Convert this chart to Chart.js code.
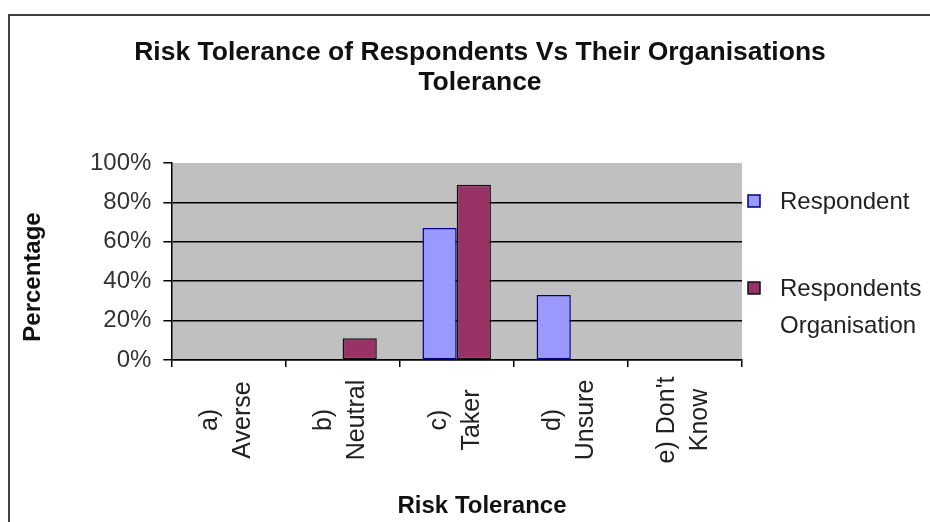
<!DOCTYPE html>
<html>
<head>
<meta charset="utf-8">
<script src="https://cdn.jsdelivr.net/npm/chart.js@4.4.0/dist/chart.umd.min.js"></script>
<style>
  html, body { margin: 0; padding: 0; background: #fff; }
  #wrap { position: relative; width: 930px; height: 522px; overflow: hidden; }
  #frame { position: absolute; left: 8px; top: 14px; width: 940px; height: 540px;
           border-left: 2px solid #404040; border-top: 2px solid #404040; }
  canvas { position: absolute; left: 0; top: 0; }
</style>
</head>
<body>
<div id="wrap">
  <div id="frame"></div>
  <canvas id="riskChart" width="930" height="522"></canvas>
</div>
<script>
const titleLines = ["Risk Tolerance of Respondents Vs Their Organisations", "Tolerance"];
const categories = [["a)", "Averse"], ["b)", "Neutral"], ["c)", "Taker"], ["d)", "Unsure"], ["e) Don't", "Know"]];
const respondent = [0, 0, 67, 33, 0];
const organisation = [0, 11, 89, 0, 0];
const seriesNames = ["Respondent", ["Respondents", "Organisation"]];
const yTicks = [0, 20, 40, 60, 80, 100];
const xTitle = "Risk Tolerance";
const yTitle = "Percentage";

const FONT = "'Liberation Sans', Arial, sans-serif";

// grey plot area like the old Excel chart
const plotBg = {
  id: 'plotBg',
  beforeDraw(chart) {
    const { ctx, chartArea: a } = chart;
    ctx.save();
    ctx.fillStyle = '#c0c0c0';
    ctx.fillRect(a.left, a.top, a.right - a.left, a.bottom - a.top);
    ctx.restore();
  }
};

// titles and category labels placed the way Excel did it
const texts = {
  id: 'texts',
  afterDraw(chart) {
    const ctx = chart.ctx;
    const xs = chart.scales.x;
    ctx.save();
    ctx.textAlign = 'center';
    ctx.textBaseline = 'middle';

    ctx.fillStyle = '#111';
    ctx.font = "bold 26.5px " + FONT;
    titleLines.forEach((t, i) => ctx.fillText(t, 480, 53 + i * 30));

    ctx.font = "bold 24px " + FONT;
    ctx.fillText(xTitle, 482, 506);
    ctx.save();
    ctx.translate(33, 277);
    ctx.rotate(-Math.PI / 2);
    ctx.fillText(yTitle, 0, 0);
    ctx.restore();

    // vertical two-line labels, centred on each category
    ctx.fillStyle = '#222';
    ctx.font = "25px " + FONT;
    categories.forEach((lines, i) => {
      const cx = xs.getPixelForTick(i);
      lines.forEach((l, j) => {
        ctx.save();
        ctx.translate(cx - 18 + j * 33, 420);
        ctx.rotate(-Math.PI / 2);
        ctx.fillText(l, 0, 0);
        ctx.restore();
      });
    });
    ctx.restore();
  }
};

// legend on the right, spaced like the reference
const sideLegend = {
  id: 'sideLegend',
  afterDraw(chart) {
    const ctx = chart.ctx;
    const rows = [201, 288];
    ctx.save();
    ctx.font = "24px " + FONT;
    ctx.textBaseline = 'middle';
    chart.data.datasets.forEach((ds, i) => {
      const y = rows[i];
      ctx.fillStyle = ds.backgroundColor;
      ctx.fillRect(748, y - 6, 12, 12);
      ctx.lineWidth = 1.5;
      ctx.strokeStyle = ds.borderColor;
      ctx.strokeRect(748, y - 6, 12, 12);
      ctx.fillStyle = '#222';
      const lines = Array.isArray(seriesNames[i]) ? seriesNames[i] : [seriesNames[i]];
      lines.forEach((l, j) => ctx.fillText(l, 780, y + 1 + j * 37));
    });
    ctx.restore();
  }
};

new Chart(document.getElementById('riskChart'), {
  type: 'bar',
  data: {
    labels: categories,
    datasets: [
      { label: 'Respondent', data: respondent, backgroundColor: '#9999ff', borderColor: '#000080', borderWidth: 1.5, borderSkipped: false },
      { label: 'Respondents Organisation', data: organisation, backgroundColor: '#993366', borderColor: '#111', borderWidth: 1.5, borderSkipped: false }
    ]
  },
  options: {
    responsive: false,
    animation: false,
    layout: { padding: { left: 78, right: 188, top: 163, bottom: 155 } },
    datasets: { bar: { categoryPercentage: 0.6, barPercentage: 1.0 } },
    plugins: { legend: { display: false }, title: { display: false }, tooltip: { enabled: false } },
    scales: {
      x: {
        grid: { drawOnChartArea: false, drawTicks: true, tickLength: 7, color: '#000', lineWidth: 1.5 },
        border: { color: '#000', width: 1.5 },
        ticks: { display: false }
      },
      y: {
        min: 0, max: 100,
        afterBuildTicks(axis) { axis.ticks = yTicks.map(v => ({ value: v })); },
        grid: {
          color: c => c.tick && c.tick.value === 100 ? 'rgba(0,0,0,0)' : '#000',
          tickColor: '#000', lineWidth: 1.5, tickLength: 8
        },
        border: { color: '#000', width: 1.5 },
        ticks: { padding: 12, color: '#333', font: { family: FONT, size: 24 }, callback: v => v + '%' }
      }
    }
  },
  plugins: [plotBg, texts, sideLegend]
});
</script>
</body>
</html>
